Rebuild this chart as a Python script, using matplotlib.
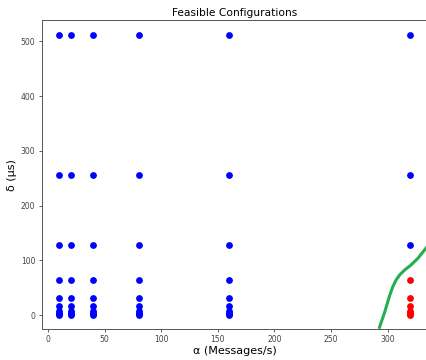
import matplotlib
matplotlib.use("Agg")
import matplotlib.pyplot as plt

alphas = [10, 20, 40, 80, 160, 320]
deltas = [1, 2, 4, 8, 16, 32, 64, 128, 256, 512]
# infeasible configurations (red)
red_alpha = [320, 320, 320, 320, 320, 320, 320]
red_delta = [1, 2, 4, 8, 16, 32, 64]

# boundary curve
curve_alpha = [292.9, 297.4, 301.8, 304.5, 307.5, 311.0, 315.5, 320.5, 327.0, 334.2, 336.0]
curve_delta = [-22.4, 4.9, 35.1, 51.0, 64.0, 74.0, 83.0, 91.0, 104.0, 123.0, 126.0]

blue_a, blue_d = [], []
for a in alphas:
    for d in deltas:
        if not (a in red_alpha and d in red_delta):
            blue_a.append(a)
            blue_d.append(d)

fig = plt.figure(figsize=(4.27, 3.6), dpi=100)
ax = fig.add_axes([0.0977, 0.086, 0.904, 0.858])

ax.scatter(blue_a, blue_d, s=15, color='blue', zorder=3)
ax.scatter(red_alpha, red_delta, s=15, color='red', zorder=3)
ax.plot(curve_alpha, curve_delta, color='#22b04e', linewidth=2.2, zorder=2)

ax.set_xlim(-5.5, 335.5)
ax.set_ylim(-25.55, 538.55)
ax.set_xticks([0, 50, 100, 150, 200, 250, 300])
ax.set_yticks([0, 100, 200, 300, 400, 500])

ax.tick_params(labelsize=5.5, length=2.5, width=0.6, colors='#444444', pad=2)
for s in ax.spines.values():
    s.set_linewidth(0.7)
    s.set_color('#555555')

ax.set_title('Feasible Configurations', fontsize=7.7, pad=3)
ax.set_xlabel('α (Messages/s)', fontsize=8, labelpad=1)
ax.set_ylabel('δ (µs)', fontsize=8, labelpad=3)

fig.savefig('out.png', dpi=100)
